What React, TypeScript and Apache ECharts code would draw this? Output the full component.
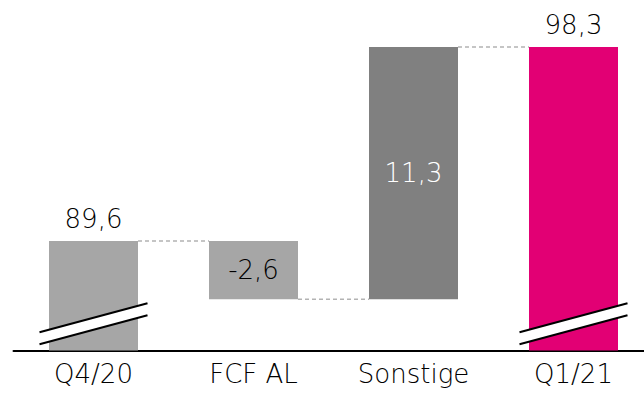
import React, { useEffect, useRef } from "react";
import * as echarts from "echarts";

// Waterfall: opening net debt, movements, closing net debt (bn €)
const categories = ["Q4/20", "FCF AL", "Sonstige", "Q1/21"];
const values = [89.6, -2.6, 11.3, 98.3];
const isTotal = [true, false, false, true];
const barColors = ["#a6a6a6", "#a6a6a6", "#808080", "#e20074"];
const labelColors = ["#000000", "#000000", "#ffffff", "#000000"];

const Y_MIN = 84.7;
const Y_MAX = 100.4;
const BREAK_AT = 85.9;
const BAR_WIDTH = 89;
const FONT = "DejaVu Sans";
const WEIGHT = 200;

const fmt = (v: number) => v.toFixed(1).replace(".", ",");

// running levels for the floating bars
const starts: number[] = [];
const ends: number[] = [];
{
  let level = 0;
  values.forEach((v, i) => {
    if (isTotal[i]) {
      starts.push(0);
      ends.push(v);
      level = v;
    } else {
      const s = level;
      const e = +(level + v).toFixed(2);
      starts.push(s);
      ends.push(e);
      level = e;
    }
  });
}
const baseData = starts.map((s, i) => (isTotal[i] ? 0 : Math.min(s, ends[i])));
const visibleData = values.map((v, i) => ({
  value: isTotal[i] ? v : Math.abs(v),
  itemStyle: { color: barColors[i] },
  label: {
    show: true,
    position: isTotal[i] ? "top" : "inside",
    distance: 9,
    color: labelColors[i],
    formatter: () => fmt(values[i]),
  },
}));
// connector levels between neighbouring bars
const connectors = ends.slice(0, -1).map((e, i) => [i, e]);
const breakBars = categories.map((_, i) => i).filter((i) => isTotal[i]).map((i) => [i, BREAK_AT]);

export default function App() {
  const ref = useRef<HTMLDivElement>(null);
  useEffect(() => {
    if (!ref.current) return;
    const chart = echarts.init(ref.current, undefined, { renderer: "svg" });
    chart.setOption({
      animation: false,
      textStyle: { fontFamily: FONT, fontWeight: WEIGHT },
      grid: { left: 13.5, top: 0, width: 640, bottom: 44.5, containLabel: false },
      xAxis: {
        type: "category",
        data: categories,
        axisLine: { lineStyle: { color: "#000", width: 2 } },
        axisTick: { show: false },
        axisLabel: { color: "#000", fontSize: 26, fontFamily: FONT, fontWeight: WEIGHT, margin: 10 },
      },
      yAxis: {
        type: "value",
        min: Y_MIN,
        max: Y_MAX,
        show: false,
        splitLine: { show: false },
      },
      series: [
        {
          type: "bar",
          stack: "wf",
          barWidth: BAR_WIDTH,
          data: baseData,
          itemStyle: { color: "transparent" },
          emphasis: { disabled: true },
          silent: true,
        },
        {
          type: "bar",
          stack: "wf",
          barWidth: BAR_WIDTH,
          data: visibleData,
          label: { fontSize: 26, fontFamily: FONT, fontWeight: WEIGHT },
          emphasis: { disabled: true },
        },
        {
          type: "custom",
          data: connectors,
          silent: true,
          z: 1,
          renderItem: (params: any, api: any) => {
            const i = api.value(0);
            const v = api.value(1);
            const p1 = api.coord([i, v]);
            const p2 = api.coord([i + 1, v]);
            return {
              type: "line",
              shape: { x1: p1[0] + BAR_WIDTH / 2, y1: p1[1], x2: p2[0] - BAR_WIDTH / 2, y2: p2[1] },
              style: { stroke: "#b3b3b3", lineWidth: 1.5, lineDash: [4, 3] },
            };
          },
        },
        {
          type: "custom",
          data: breakBars,
          silent: true,
          z: 5,
          renderItem: (params: any, api: any) => {
            const c = api.coord([api.value(0), api.value(1)]);
            const hw = 54;
            const rise = 14.5;
            const gap = 6;
            const x1 = c[0] - hw;
            const x2 = c[0] + hw;
            return {
              type: "group",
              children: [
                {
                  type: "polygon",
                  shape: {
                    points: [
                      [x1, c[1] + rise - gap],
                      [x2, c[1] - rise - gap],
                      [x2, c[1] - rise + gap],
                      [x1, c[1] + rise + gap],
                    ],
                  },
                  style: { fill: "#ffffff" },
                },
                {
                  type: "line",
                  shape: { x1, y1: c[1] + rise - gap, x2, y2: c[1] - rise - gap },
                  style: { stroke: "#000", lineWidth: 2 },
                },
                {
                  type: "line",
                  shape: { x1, y1: c[1] + rise + gap, x2, y2: c[1] - rise + gap },
                  style: { stroke: "#000", lineWidth: 2 },
                },
              ],
            };
          },
        },
      ],
    });
    return () => chart.dispose();
  }, []);
  return (
    <div
      ref={ref}
      style={{ position: "fixed", left: 0, top: 0, width: 664, height: 395, background: "#fff" }}
    />
  );
}
